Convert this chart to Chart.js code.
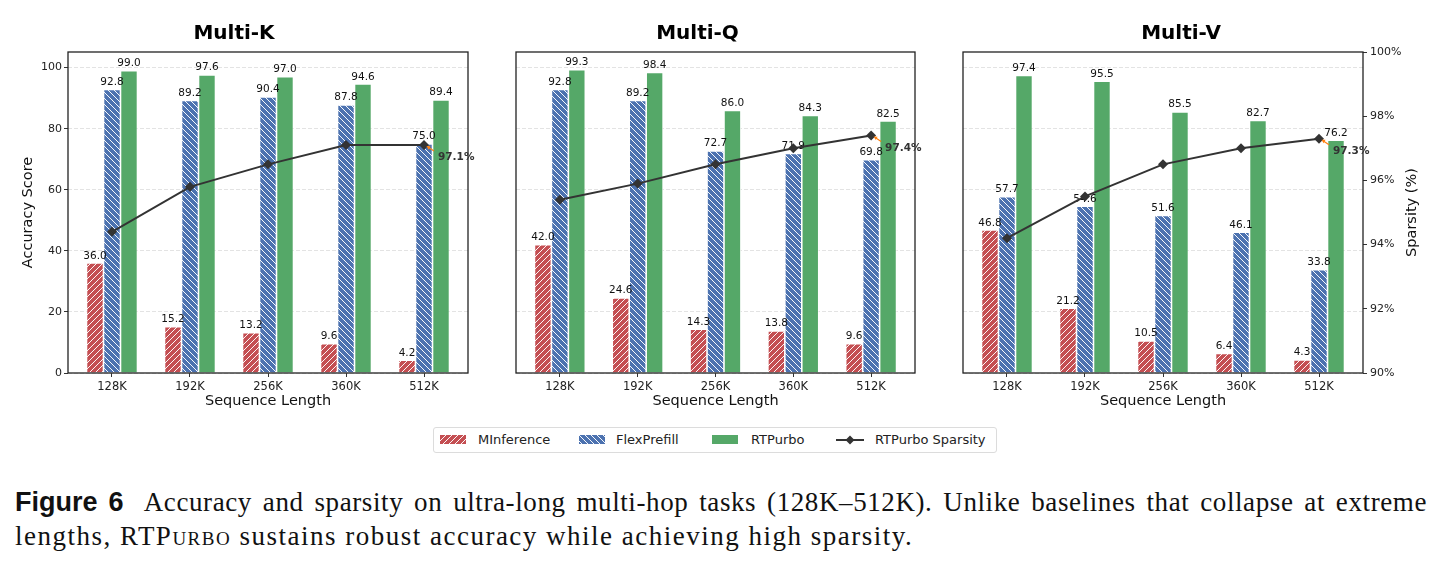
<!DOCTYPE html>
<html>
<head>
<meta charset="utf-8">
<script src="https://cdn.jsdelivr.net/npm/chart.js@4.4.1/dist/chart.umd.min.js"></script>
<style>
  body { margin: 0; width: 1442px; height: 568px; background: #fff; position: relative; overflow: hidden; }
  canvas.panel { position: absolute; top: 0; }
  #legend { position: absolute; left: 433px; top: 427px; width: 562px; height: 24px; border: 1px solid #dcdcdc; border-radius: 3px; background: #fff; }
  #legend canvas, #legend span { position: absolute; }
  #legend span { font: 13px "DejaVu Sans", sans-serif; color: #222; top: 4px; white-space: nowrap; }
  .cap { position: absolute; left: 15px; font-family: "Liberation Serif", serif; font-size: 27px; color: #111; white-space: nowrap; }
  .cap b { font-family: "Liberation Sans", sans-serif; font-weight: bold; letter-spacing: 0; }
  .sc { font-variant: small-caps; }
</style>
</head>
<body>
<canvas id="multiK" class="panel" width="480" height="412" style="left:0px"></canvas>
<canvas id="multiQ" class="panel" width="460" height="412" style="left:480px"></canvas>
<canvas id="multiV" class="panel" width="482" height="412" style="left:940px"></canvas>

<div id="legend">
  <canvas id="lgRed" width="26" height="9" style="left:6px;top:7px"></canvas><span style="left:44px">MInference</span>
  <canvas id="lgBlue" width="26" height="9" style="left:145px;top:7px"></canvas><span style="left:182px">FlexPrefill</span>
  <canvas id="lgGreen" width="26" height="9" style="left:278px;top:7px"></canvas><span style="left:317px">RTPurbo</span>
  <canvas id="lgLine" width="28" height="12" style="left:402px;top:6px"></canvas><span style="left:441px">RTPurbo Sparsity</span>
</div>

<div class="cap" style="top:487px;width:1412px;text-align:justify;text-align-last:justify;letter-spacing:0.6px;"><b>Figure 6</b>&nbsp; Accuracy and sparsity on ultra-long multi-hop tasks (128K–512K). Unlike baselines that collapse at extreme</div>
<div class="cap" style="top:521px;letter-spacing:1.5px;">lengths, RTP<span class="sc">urbo</span> sustains robust accuracy while achieving high sparsity.</div>

<script>
// sequence lengths on the x axis
const seqLengths = ['128K', '192K', '256K', '360K', '512K'];

// Multi-K
const kMInference = [36.0, 15.2, 13.2, 9.6, 4.2];
const kFlexPrefill = [92.8, 89.2, 90.4, 87.8, 75.0];
const kRTPurbo = [99.0, 97.6, 97.0, 94.6, 89.4];
const kSparsity = [94.4, 95.8, 96.5, 97.1, 97.1];

// Multi-Q
const qMInference = [42.0, 24.6, 14.3, 13.8, 9.6];
const qFlexPrefill = [92.8, 89.2, 72.7, 71.9, 69.8];
const qRTPurbo = [99.3, 98.4, 86.0, 84.3, 82.5];
const qSparsity = [95.4, 95.9, 96.5, 97.0, 97.4];

// Multi-V
const vMInference = [46.8, 21.2, 10.5, 6.4, 4.3];
const vFlexPrefill = [57.7, 54.6, 51.6, 46.1, 33.8];
const vRTPurbo = [97.4, 95.5, 85.5, 82.7, 76.2];
const vSparsity = [94.2, 95.5, 96.5, 97.0, 97.3];

const accuracyTicks = [0, 20, 40, 60, 80, 100];
const sparsityTicks = [90, 92, 94, 96, 98, 100];

const RED = '#C44E52', BLUE = '#4C72B0', GREEN = '#55A868', LINE = '#333333';
const FONT = '"DejaVu Sans", sans-serif';
Chart.defaults.font.family = FONT;
Chart.defaults.color = '#222';

// x limits like matplotlib's default margins around 5 bar groups
const X_MIN = -0.564, X_MAX = 4.564;

// white hatch on a coloured tile, '/' or '\'
function hatch(color, dir) {
  const c = document.createElement('canvas');
  c.width = c.height = 6;
  const g = c.getContext('2d');
  g.fillStyle = color;
  g.fillRect(0, 0, 6, 6);
  g.strokeStyle = 'rgba(255,255,255,0.95)';
  g.lineWidth = 1;
  g.beginPath();
  if (dir === '/') {
    g.moveTo(-1, 7); g.lineTo(7, -1);
    g.moveTo(-1, 1); g.lineTo(1, -1);
    g.moveTo(5, 7); g.lineTo(7, 5);
  } else {
    g.moveTo(-1, -1); g.lineTo(7, 7);
    g.moveTo(5, -1); g.lineTo(7, 1);
    g.moveTo(-1, 5); g.lineTo(1, 7);
  }
  g.stroke();
  return g.createPattern(c, 'repeat');
}
const redHatch = hatch(RED, '/');
const blueHatch = hatch(BLUE, '\\');

const toPoints = arr => arr.map((v, i) => ({ x: i, y: v }));

// value labels above bars, drawn before the sparsity line so the line sits on top
const barLabels = {
  id: 'barLabels',
  beforeDatasetDraw(chart, args) {
    if (chart.data.datasets[args.index].type !== 'line') return;
    const ctx = chart.ctx;
    ctx.save();
    ctx.font = '10.5px ' + FONT;
    ctx.fillStyle = '#111';
    ctx.textAlign = 'center';
    ctx.textBaseline = 'alphabetic';
    chart.data.datasets.forEach((ds, i) => {
      if (ds.type === 'line') return;
      chart.getDatasetMeta(i).data.forEach((bar, j) => {
        ctx.fillText(ds.data[j].y.toFixed(1), bar.x, bar.y - 4.5);
      });
    });
    ctx.restore();
  }
};

// frame around the plot + annotation of the last sparsity point
const frameAndNote = {
  id: 'frameAndNote',
  afterDatasetsDraw(chart, args, opts) {
    const { ctx, chartArea: a } = chart;
    ctx.save();
    ctx.strokeStyle = '#222';
    ctx.lineWidth = 1.3;
    ctx.strokeRect(a.left, a.top, a.right - a.left, a.bottom - a.top);

    const lineIdx = chart.data.datasets.findIndex(d => d.type === 'line');
    const pts = chart.getDatasetMeta(lineIdx).data;
    const p = pts[pts.length - 1];
    const last = chart.data.datasets[lineIdx].data[pts.length - 1].y;
    // arrow
    ctx.strokeStyle = '#ff7f0e';
    ctx.fillStyle = '#ff7f0e';
    ctx.lineWidth = 1.2;
    ctx.beginPath();
    ctx.moveTo(p.x + 10, p.y + 6);
    ctx.lineTo(p.x + 4, p.y + 2);
    ctx.stroke();
    ctx.beginPath();
    ctx.moveTo(p.x + 2.5, p.y + 1);
    ctx.lineTo(p.x + 6.5, p.y + 1.2);
    ctx.lineTo(p.x + 4.6, p.y + 4.6);
    ctx.closePath();
    ctx.fill();
    ctx.font = 'bold 10.5px ' + FONT;
    ctx.fillStyle = '#333';
    ctx.textAlign = 'left';
    ctx.textBaseline = 'middle';
    ctx.fillText(last.toFixed(1) + '%', p.x + 14, p.y + 12.5);

    if (opts.rightTitle) {
      ctx.translate(opts.rightTitle, (a.top + a.bottom) / 2);
      ctx.rotate(-Math.PI / 2);
      ctx.font = '14.5px ' + FONT;
      ctx.fillStyle = '#111';
      ctx.textAlign = 'center';
      ctx.fillText('Sparsity (%)', 0, 0);
    }
    ctx.restore();
  }
};

function makePanel(id, title, mi, fp, rt, sp, o) {
  const yOpts = {
    min: 0,
    max: 105.1,
    afterFit: s => { s.width = o.leftWidth; },
    afterBuildTicks: s => { s.ticks = accuracyTicks.map(v => ({ value: v })); },
    ticks: { display: o.leftTicks, font: { size: 11 }, color: '#222', padding: 2 },
    grid: {
      color: 'rgba(176,176,176,0.35)',
      drawTicks: o.leftTicks,
      tickLength: 4,
      tickColor: '#333'
    },
    border: { display: false, dash: [4, 2] },
    title: {
      display: !!o.yTitle,
      text: o.yTitle || '',
      font: { size: 14.5 },
      color: '#111',
      padding: { top: 20, bottom: 0 }
    }
  };
  const y1Opts = {
    display: o.rightAxis,
    position: 'right',
    min: 90,
    max: 100,
    // only the visible sparsity axis reserves room on the right
    afterFit: s => { if (o.rightAxis) s.width = 59; },
    afterBuildTicks: s => { s.ticks = sparsityTicks.map(v => ({ value: v })); },
    ticks: { font: { size: 11 }, color: '#222', padding: 3, callback: v => v + '%' },
    grid: { drawOnChartArea: false, tickLength: 4, tickColor: '#333' },
    border: { display: false }
  };

  return new Chart(document.getElementById(id), {
    type: 'bar',
    data: {
      datasets: [
        { label: 'MInference', data: toPoints(mi), backgroundColor: redHatch, borderColor: '#fff', borderWidth: 0.8, yAxisID: 'y', order: 1 },
        { label: 'FlexPrefill', data: toPoints(fp), backgroundColor: blueHatch, borderColor: '#fff', borderWidth: 0.8, yAxisID: 'y', order: 1 },
        { label: 'RTPurbo', data: toPoints(rt), backgroundColor: GREEN, borderColor: '#fff', borderWidth: 0.8, yAxisID: 'y', order: 1 },
        {
          type: 'line', label: 'RTPurbo Sparsity', data: toPoints(sp), yAxisID: 'y1', order: 0,
          borderColor: LINE, borderWidth: 2, backgroundColor: LINE,
          pointStyle: 'rectRot', pointRadius: 5, pointBackgroundColor: LINE, pointBorderWidth: 0,
          tension: 0
        }
      ]
    },
    options: {
      responsive: false,
      animation: false,
      events: [],
      layout: { padding: { left: 0, right: o.padRight, top: 0, bottom: 0 } },
      datasets: { bar: { categoryPercentage: 0.654, barPercentage: 1 } },
      plugins: {
        legend: { display: false },
        tooltip: { enabled: false },
        title: {
          display: true,
          text: title,
          font: { size: 20, weight: 'bold' },
          color: '#000',
          padding: { top: 22, bottom: 6 }
        },
        frameAndNote: { rightTitle: o.rightTitle }
      },
      scales: {
        x: {
          type: 'linear',
          offset: false,
          bounds: 'data',
          min: X_MIN,
          max: X_MAX,
          afterFit: s => { s.height = 39; },
          afterBuildTicks: s => { s.ticks = seqLengths.map((_, i) => ({ value: i })); },
          ticks: { callback: v => seqLengths[v], font: { size: 11.5 }, color: '#222', padding: 3, maxRotation: 0, autoSkip: false },
          grid: { drawOnChartArea: false, offset: false, tickLength: 4, tickColor: '#333' },
          border: { display: false },
          title: { display: true, text: 'Sequence Length', font: { size: 14.5 }, color: '#111', padding: { top: 0, bottom: 2 } }
        },
        y: yOpts,
        y1: y1Opts
      }
    },
    plugins: [barLabels, frameAndNote]
  });
}

makePanel('multiK', 'Multi-K', kMInference, kFlexPrefill, kRTPurbo, kSparsity,
  { leftWidth: 68, leftTicks: true, yTitle: 'Accuracy Score', padRight: 12, rightAxis: false });
makePanel('multiQ', 'Multi-Q', qMInference, qFlexPrefill, qRTPurbo, qSparsity,
  { leftWidth: 36, leftTicks: false, padRight: 25, rightAxis: false });
makePanel('multiV', 'Multi-V', vMInference, vFlexPrefill, vRTPurbo, vSparsity,
  { leftWidth: 23, leftTicks: false, padRight: 0, rightAxis: true, rightTitle: 472 });

// legend swatches
function swatch(id, fill) {
  const g = document.getElementById(id).getContext('2d');
  g.fillStyle = fill;
  g.fillRect(0, 0, 26, 9);
}
swatch('lgRed', redHatch);
swatch('lgBlue', blueHatch);
swatch('lgGreen', GREEN);
(function () {
  const g = document.getElementById('lgLine').getContext('2d');
  g.strokeStyle = LINE;
  g.lineWidth = 2;
  g.beginPath(); g.moveTo(0, 6); g.lineTo(28, 6); g.stroke();
  g.fillStyle = LINE;
  g.beginPath(); g.moveTo(14, 1.5); g.lineTo(18.5, 6); g.lineTo(14, 10.5); g.lineTo(9.5, 6); g.closePath(); g.fill();
})();
</script>
</body>
</html>
